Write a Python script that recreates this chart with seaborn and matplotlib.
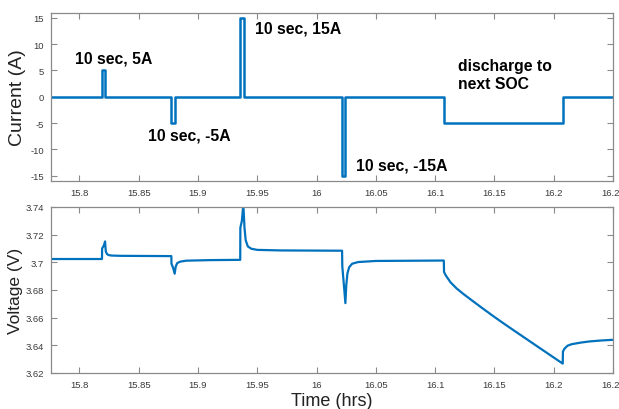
import matplotlib
matplotlib.use("Agg")
import matplotlib.pyplot as plt
import seaborn as sns
import pandas as pd

# ---- data ----
cur_t = [15.776, 15.819, 15.819, 15.8218, 15.8218, 15.8775, 15.8775, 15.8803, 15.8803,
         15.9356, 15.9356, 15.9384, 15.9384, 16.0215, 16.0215, 16.0243, 16.0243,
         16.1073, 16.1073, 16.2076, 16.2076, 16.25]
cur_i = [0, 0, 5, 5, 0, 0, -5, -5, 0,
         0, 15, 15, 0, 0, -15, -15, 0,
         0, -5, -5, 0, 0]

volt_t = [15.776, 15.819, 15.8191, 15.8205, 15.8216, 15.8222, 15.8232, 15.8245, 15.827, 15.835, 15.8775,
          15.8776, 15.879, 15.8803, 15.8812, 15.8825, 15.885, 15.89, 15.91, 15.9356,
          15.9357, 15.937, 15.9382, 15.9392, 15.9402, 15.942, 15.945, 15.95, 15.97, 16.0215,
          16.0217, 16.023, 16.0243, 16.025, 16.026, 16.0275, 16.03, 16.035, 16.05, 16.1073,
          16.1075, 16.109, 16.113, 16.118, 16.124, 16.131, 16.138, 16.15, 16.16, 16.172, 16.19, 16.2076,
          16.2078, 16.209, 16.2116, 16.215, 16.223, 16.23, 16.24, 16.25]
volt_v = [3.7024, 3.7024, 3.7100, 3.7120, 3.7151, 3.7080, 3.7060, 3.7053, 3.7049, 3.7047, 3.7045,
          3.6990, 3.6960, 3.6918, 3.6970, 3.6995, 3.7005, 3.7012, 3.7016, 3.7018,
          3.7250, 3.7300, 3.7420, 3.7250, 3.7160, 3.7115, 3.7098, 3.7090, 3.7086, 3.7084,
          3.6970, 3.6840, 3.6705, 3.6830, 3.6920, 3.6965, 3.6990, 3.7002, 3.7010, 3.7013,
          3.6930, 3.6905, 3.6855, 3.6812, 3.6770, 3.6725, 3.6680, 3.6605, 3.6545, 3.6475, 3.6370, 3.6268,
          3.6355, 3.6375, 3.6397, 3.6408, 3.6420, 3.6428, 3.6435, 3.6440]

xticks = [15.8, 15.85, 15.9, 15.95, 16.0, 16.05, 16.1, 16.15, 16.2, 16.25]
xticklabels = ["15.8", "15.85", "15.9", "15.95", "16", "16.05", "16.1", "16.15", "16.2", "16.25"]
cur_ticks = [-15, -10, -5, 0, 5, 10, 15]
volt_ticks = [3.62, 3.64, 3.66, 3.68, 3.70, 3.72, 3.74]
volt_ticklabels = ["3.62", "3.64", "3.66", "3.68", "3.7", "3.72", "3.74"]

annotations = [
    ("10 sec, 5A", 15.796, 7.4),
    ("10 sec, -5A", 15.858, -7.3),
    ("10 sec, 15A", 15.948, 13.1),
    ("10 sec, -15A", 16.033, -12.9),
    ("discharge to\nnext SOC", 16.119, 4.3),
]

# ---- plot ----
sns.set_theme(style="white")
plt.rcParams['font.family'] = ['Liberation Sans', 'DejaVu Sans']

W, H = 619, 410
fig = plt.figure(figsize=(W / 100, H / 100), dpi=100)
blue = "#0072BD"
spine_c = "#8a8a8a"
tick_c = "#3a3a3a"

def box(l, t, r, b):
    return [l / W, 1 - b / H, (r - l) / W, (b - t) / H]

ax1 = fig.add_axes(box(51, 13.5, 613, 182))
ax2 = fig.add_axes(box(51, 208, 613, 374))

df_c = pd.DataFrame({"t": cur_t, "i": cur_i})
df_v = pd.DataFrame({"t": volt_t, "v": volt_v})

sns.lineplot(data=df_c, x="t", y="i", ax=ax1, sort=False, estimator=None,
             color=blue, linewidth=1.8)
sns.lineplot(data=df_v, x="t", y="v", ax=ax2, sort=False, estimator=None,
             color=blue, linewidth=1.6)

for ax in (ax1, ax2):
    ax.set_xlim(15.776, 16.25)
    ax.set_xticks(xticks)
    ax.set_xticklabels(xticklabels)
    ax.tick_params(direction="in", length=4, width=0.8, colors=spine_c,
                   labelcolor=tick_c, labelsize=6.8, top=True, right=True,
                   bottom=True, left=True, pad=5)
    for s in ax.spines.values():
        s.set_color(spine_c)
        s.set_linewidth(0.9)
    ax.set_facecolor("white")

ax1.set_ylim(-16, 16)
ax1.set_yticks(cur_ticks)
ax1.set_yticklabels([str(v) for v in cur_ticks])
ax1.set_xlabel("")
ax1.set_ylabel("Current (A)", fontsize=14, color="#222222", labelpad=3)

ax2.set_ylim(3.62, 3.74)
ax2.set_yticks(volt_ticks)
ax2.set_yticklabels(volt_ticklabels)
ax2.set_xlabel("Time (hrs)", fontsize=13, color="#222222", labelpad=2)
ax2.set_ylabel("Voltage (V)", fontsize=12.5, color="#222222", labelpad=2)

for txt, x, y in annotations:
    ax1.text(x, y, txt, fontsize=11.3, fontweight="bold", color="black",
             ha="left", va="center", linespacing=1.25)

fig.savefig("out.png", dpi=100, facecolor="white")
